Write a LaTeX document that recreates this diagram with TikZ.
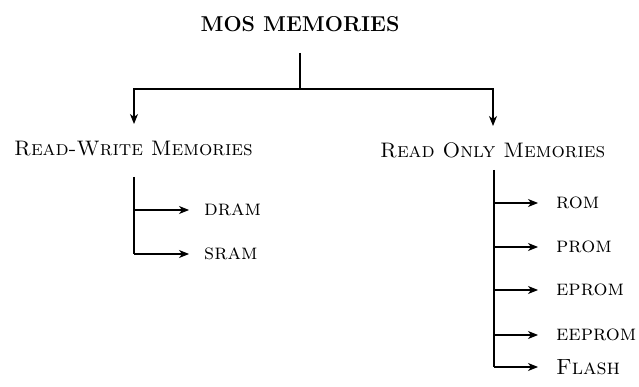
\documentclass[tikz,border=0pt]{standalone}
\usetikzlibrary{arrows.meta}
\begin{document}
\begin{tikzpicture}[x=1pt,y=-1pt,
  conn/.style={line width=1.1pt,-{Stealth[length=10pt,width=8pt,inset=3pt]}},
  stem/.style={line width=1.1pt},
  title/.style={inner sep=0pt,font=\fontsize{21.5}{24}\selectfont\bfseries},
  cat/.style={inner sep=0pt,font=\fontsize{21}{24}\selectfont\scshape},
  leaf/.style={inner sep=0pt,anchor=west,font=\fontsize{22}{24}\selectfont\scshape}]
\useasboundingbox (0,0) rectangle (639,387);
\node[title] (mos) at (300,24) {MOS MEMORIES};
\node[cat,anchor=west] (rw) at (14,149) {Read-Write Memories};
\node[cat,anchor=west] (ro) at (380,150) {Read Only Memories};
\coordinate (top) at (300,53);
\coordinate (jn) at (300,89);
\coordinate (rwin) at (134,124);
\coordinate (roin) at (493,126);
\draw[stem] (top) -- (jn);
\draw[conn] (jn) -| (rwin);
\draw[conn] (jn) -| (roin);
% left list
\coordinate (ls) at (134,177);
\node[leaf] (dram) at (204,210) {dram};
\node[leaf] (sram) at (204,254) {sram};
\draw[stem] (ls) -- (134,254);
\draw[conn] (134,210) -- ([xshift=-15pt]dram.west);
\draw[conn] (134,254) -- ([xshift=-15pt]sram.west);
% right list
\coordinate (rs) at (494,170);
\node[leaf] (rom) at (556,203) {rom};
\node[leaf] (prom) at (556,247) {prom};
\node[leaf] (eprom) at (556,290) {eprom};
\node[leaf] (eeprom) at (556,335) {eeprom};
\node[leaf] (flash) at (556,367) {Flash};
\draw[stem] (rs) -- (494,367);
\foreach \n in {rom,prom,eprom,eeprom,flash}
  \draw[conn] (494,0 |- \n.west) -- ([xshift=-18pt]\n.west);
\end{tikzpicture}
\end{document}
